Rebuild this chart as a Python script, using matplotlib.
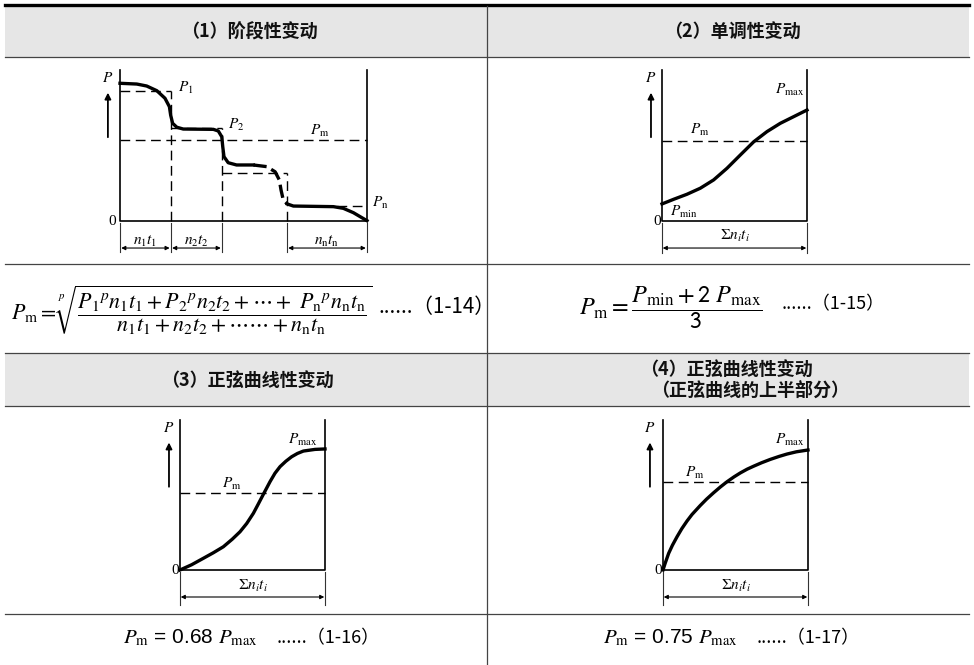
import matplotlib.pyplot as plt
from matplotlib.patches import Rectangle

plt.rcParams['font.family'] = ['Noto Sans CJK SC', 'DejaVu Sans']
plt.rcParams['mathtext.fontset'] = 'stix'

W, H = 974, 665

titles = ['（1）阶段性变动', '（2）单调性变动', '（3）正弦曲线性变动', '（4）正弦曲线性变动']
title4_sub = '（正弦曲线的上半部分）'

# (1) stepwise load, frame normalised to 0..1 on both axes
step_x1 = [0, 0.068, 0.108, 0.149, 0.182, 0.200, 0.205, 0.213, 0.230, 0.256, 0.378,
           0.398, 0.412, 0.416, 0.421, 0.438, 0.472, 0.540]
step_y1 = [0.912, 0.907, 0.894, 0.863, 0.813, 0.757, 0.702, 0.647, 0.621, 0.609, 0.607,
           0.596, 0.558, 0.492, 0.426, 0.386, 0.371, 0.371]
step_xd = [0.540, 0.594, 0.628, 0.645, 0.652, 0.661, 0.677]
step_yd = [0.371, 0.360, 0.326, 0.272, 0.205, 0.139, 0.113]
step_x3 = [0.677, 0.702, 0.864, 0.904, 0.945, 1.0]
step_y3 = [0.113, 0.099, 0.095, 0.084, 0.055, 0.002]
step_bounds = [0, 0.206, 0.413, 0.676, 1.0]
step_levels = [0.861, 0.616, 0.318, 0.099]
step_pm = 0.536
step_spans = [(0, 1, r'$n_1t_1$'), (1, 2, r'$n_2t_2$'), (3, 4, r'$n_{\mathrm{n}}t_{\mathrm{n}}$')]

# (2) monotonic
mono_x = [0, 0.081, 0.172, 0.264, 0.356, 0.448, 0.540, 0.633, 0.724, 0.816, 0.908, 1.0]
mono_y = [0.113, 0.144, 0.177, 0.217, 0.272, 0.349, 0.437, 0.525, 0.592, 0.647, 0.691, 0.735]
mono_pm = 0.53

# (3) sine curve
sine_x = [0, 0.08, 0.161, 0.23, 0.299, 0.36, 0.414, 0.46, 0.506, 0.54, 0.575, 0.621,
          0.655, 0.690, 0.73, 0.770, 0.81, 0.851, 0.931, 1.0]
sine_y = [0, 0.035, 0.078, 0.115, 0.155, 0.205, 0.255, 0.31, 0.378, 0.44, 0.505, 0.589,
          0.645, 0.689, 0.725, 0.755, 0.777, 0.793, 0.804, 0.807]
sine_pm = 0.515

# (4) upper half of sine curve
half_x = [0, 0.015, 0.039, 0.065, 0.097, 0.13, 0.166, 0.2, 0.257, 0.3, 0.349, 0.395,
          0.441, 0.49, 0.533, 0.58, 0.625, 0.68, 0.739, 0.8, 0.855, 0.92, 1.0]
half_y = [0, 0.045, 0.111, 0.165, 0.222, 0.276, 0.327, 0.37, 0.43, 0.472, 0.515, 0.553,
          0.588, 0.621, 0.647, 0.672, 0.692, 0.715, 0.737, 0.757, 0.773, 0.788, 0.800]
half_pm = 0.585

fig = plt.figure(figsize=(W / 100, H / 100), dpi=100)
bg = fig.add_axes([0, 0, 1, 1])
bg.set_xlim(0, W)
bg.set_ylim(H, 0)
bg.axis('off')

# table grid
for top, hgt in [(6, 51), (353, 53)]:
    bg.add_patch(Rectangle((5, top), 964, hgt, color='#e6e6e6', lw=0))
bg.plot([5, 969], [4.5, 4.5], color='k', lw=2.4)
for y in [57, 264, 353, 406, 614]:
    bg.plot([5, 969], [y, y], color='#444444', lw=0.9)
bg.plot([487, 487], [6, 665], color='#444444', lw=0.9)

hkw = dict(fontsize=13, fontweight='bold', ha='center', va='center', color='#111111')
bg.text(249, 32, titles[0], **hkw)
bg.text(732, 32, titles[1], **hkw)
bg.text(247, 381, titles[2], **hkw)
bg.text(726, 370, titles[3], **hkw)
bg.text(750, 390, title4_sub, **hkw)

# formulas
tkw = dict(color='k', va='center', ha='left')
bg.text(372, 310, r'$P_{\mathrm{m}}=\sqrt[p]{\dfrac{P_1{}^p n_1t_1+P_2{}^p n_2t_2+\cdots+\ '
        r'P_{\mathrm{n}}{}^p n_{\mathrm{n}}t_{\mathrm{n}}}{n_1t_1+n_2t_2+\cdots\cdots+n_{\mathrm{n}}t_{\mathrm{n}}}}$',
        ha='right', va='center', fontsize=15.8)
bg.text(378, 307, '......（1-14）', fontsize=14.8, **tkw)
bg.text(763, 308, r'$P_{\mathrm{m}}=\dfrac{P_{\mathrm{min}}+\mathsf{2}\ P_{\mathrm{max}}}{\mathsf{3}}$',
        ha='right', va='center', fontsize=17.5)
bg.text(782, 304, '......（1-15）', fontsize=13, **tkw)
bg.text(258, 638, r'$P_{\mathrm{m}}$ = 0.68 $P_{\mathrm{max}}$', ha='right', va='center',
        family=['Liberation Sans'], fontsize=15)
bg.text(277, 638, '......（1-16）', fontsize=13, **tkw)
bg.text(738, 638, r'$P_{\mathrm{m}}$ = 0.75 $P_{\mathrm{max}}$', ha='right', va='center',
        family=['Liberation Sans'], fontsize=15)
bg.text(757, 638, '......（1-17）', fontsize=13, **tkw)

dash = (0, (7, 4))
lkw = dict(fontsize=11, color='k')


def frame(box):
    l, r, t, b = box
    ax = fig.add_axes([l / W, 1 - b / H, (r - l) / W, (b - t) / H])
    ax.set_xlim(0, 1)
    ax.set_ylim(0, 1)
    ax.axis('off')
    ax.plot([0, 0, 1, 1], [1, 0, 0, 1], color='k', lw=1.2, clip_on=False)
    return ax


def marks(ax, px, bounds, spans, tick_lo, arrow_y, label_y):
    ax.annotate('', xy=(px, 0.85), xytext=(px, 0.555),
                arrowprops=dict(arrowstyle='-|>', lw=1.3, color='k', mutation_scale=9,
                                shrinkA=0, shrinkB=0), annotation_clip=False)
    ax.text(px, 0.95, r'$P$', ha='center', va='center', **lkw)
    ax.text(-0.03, 0, '0', ha='center', va='center', family=['Liberation Serif'], **lkw)
    for b in bounds:
        ax.plot([b, b], [-0.013, tick_lo], color='#333333', lw=0.8, clip_on=False)
    for i, j, lab in spans:
        ax.annotate('', xy=(bounds[j] - 0.005, arrow_y), xytext=(bounds[i] + 0.005, arrow_y),
                    arrowprops=dict(arrowstyle='<|-|>', lw=0.8, color='k', mutation_scale=6,
                                    shrinkA=0, shrinkB=0), annotation_clip=False)
        ax.text((bounds[i] + bounds[j]) / 2, label_y, lab, ha='center', va='center', **lkw)


curve = dict(color='k', lw=2.4, clip_on=False, solid_joinstyle='round')
thin = dict(color='k', lw=1.0, ls=dash, clip_on=False)

# (1)
ax1 = frame((120, 367, 70, 221))
ax1.plot(step_x1, step_y1, **curve)
ax1.plot(step_xd, step_yd, color='k', lw=2.4, ls=(0, (4, 1.6)), clip_on=False)
ax1.plot(step_x3, step_y3, **curve)
ax1.plot([0, 1], [step_pm, step_pm], **thin)
ax1.plot([0, step_bounds[1]], [step_levels[0]] * 2, **thin)
for k in range(1, 3):
    ax1.plot([step_bounds[k], step_bounds[k + 1]], [step_levels[k]] * 2, **thin)
for k in range(1, 4):
    ax1.plot([step_bounds[k]] * 2, [0, step_levels[k - 1]], **thin)
ax1.plot([0.88, 1], [step_levels[3]] * 2, **thin)
ax1.text(0.235, 0.885, r'$P_1$', ha='left', va='center', **lkw)
ax1.text(0.437, 0.64, r'$P_2$', ha='left', va='center', **lkw)
ax1.text(0.81, 0.6, r'$P_{\mathrm{m}}$', ha='center', va='center', **lkw)
ax1.text(1.02, 0.12, r'$P_{\mathrm{n}}$', ha='left', va='center', **lkw)
marks(ax1, -0.049, step_bounds, step_spans, -0.205, -0.179, -0.126)

sig = [(0, 1, r'$\Sigma n_i t_i$')]

# (2)
ax2 = frame((662, 807, 70, 221))
ax2.plot(mono_x, mono_y, **curve)
ax2.plot([0, 1], [mono_pm, mono_pm], **thin)
ax2.text(0.262, 0.603, r'$P_{\mathrm{m}}$', ha='center', va='center', **lkw)
ax2.text(0.883, 0.868, r'$P_{\mathrm{max}}$', ha='center', va='center', **lkw)
ax2.text(0.15, 0.06, r'$P_{\mathrm{min}}$', ha='center', va='center', **lkw)
marks(ax2, -0.076, [0, 1], sig, -0.212, -0.179, -0.093)

# (3)
ax3 = frame((180, 325, 420, 570))
ax3.plot(sine_x, sine_y, **curve)
ax3.plot([0, 1], [sine_pm, sine_pm], **thin)
ax3.text(0.359, 0.58, r'$P_{\mathrm{m}}$', ha='center', va='center', **lkw)
ax3.text(0.848, 0.867, r'$P_{\mathrm{max}}$', ha='center', va='center', **lkw)
marks(ax3, -0.076, [0, 1], sig, -0.233, -0.18, -0.1)

# (4)
ax4 = frame((663, 808, 420, 570))
ax4.plot(half_x, half_y, **curve)
ax4.plot([0, 1], [half_pm, half_pm], **thin)
ax4.text(0.22, 0.653, r'$P_{\mathrm{m}}$', ha='center', va='center', **lkw)
ax4.text(0.876, 0.867, r'$P_{\mathrm{max}}$', ha='center', va='center', **lkw)
marks(ax4, -0.09, [0, 1], sig, -0.233, -0.18, -0.1)

fig.savefig('out.png', dpi=100)
